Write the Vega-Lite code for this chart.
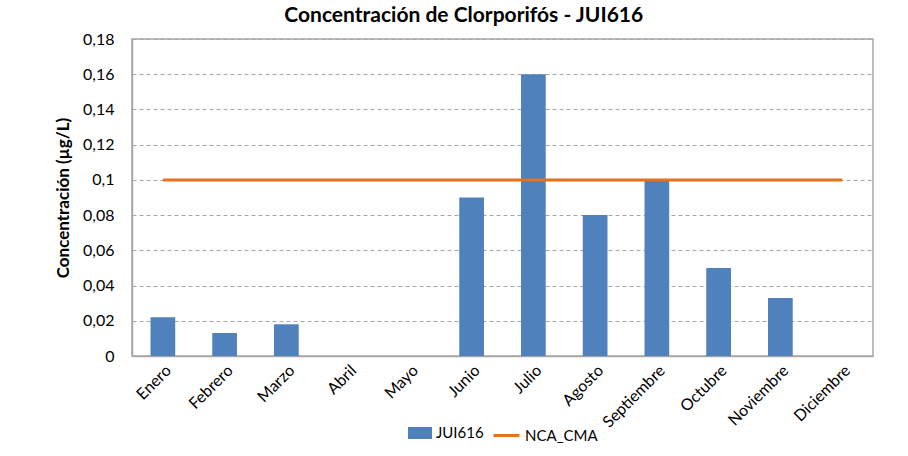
{
  "$schema": "https://vega.github.io/schema/vega-lite/v6.json",
  "width": 908,
  "height": 456,
  "autosize": {"type": "fit", "contains": "padding"},
  "padding": {"left": 54, "top": 5, "right": 35, "bottom": 12},
  "background": "white",
  "title": {
    "text": "Concentración de Clorporifós - JUI616",
    "font": "Lato",
    "fontSize": 21,
    "fontWeight": "bold",
    "color": "#000000",
    "anchor": "middle",
    "frame": "bounds",
    "offset": 5
  },
  "data": {
    "values": [
      {"mes": "Enero", "valor": 0.022, "nca": 0.1},
      {"mes": "Febrero", "valor": 0.013, "nca": 0.1},
      {"mes": "Marzo", "valor": 0.018, "nca": 0.1},
      {"mes": "Abril", "valor": null, "nca": 0.1},
      {"mes": "Mayo", "valor": null, "nca": 0.1},
      {"mes": "Junio", "valor": 0.09, "nca": 0.1},
      {"mes": "Julio", "valor": 0.16, "nca": 0.1},
      {"mes": "Agosto", "valor": 0.08, "nca": 0.1},
      {"mes": "Septiembre", "valor": 0.1, "nca": 0.1},
      {"mes": "Octubre", "valor": 0.05, "nca": 0.1},
      {"mes": "Noviembre", "valor": 0.033, "nca": 0.1},
      {"mes": "Diciembre", "valor": null, "nca": 0.1}
    ]
  },
  "encoding": {
    "x": {
      "field": "mes",
      "type": "nominal",
      "sort": ["Enero", "Febrero", "Marzo", "Abril", "Mayo", "Junio", "Julio", "Agosto", "Septiembre", "Octubre", "Noviembre", "Diciembre"],
      "scale": {"paddingInner": 0.6, "paddingOuter": 0.3},
      "axis": {
        "title": null,
        "labelAngle": -45,
        "labelFont": "Lato",
        "labelFontSize": 16,
        "labelColor": "#000000",
        "labelPadding": 6,
        "ticks": false,
        "domainColor": "#a6a6a6",
        "domainWidth": 1.5,
        "grid": false
      }
    }
  },
  "layer": [
    {
      "mark": {"type": "bar", "color": "#4F81BD"},
      "encoding": {
        "y": {
          "field": "valor",
          "type": "quantitative",
          "scale": {"domain": [0, 0.18], "nice": false},
          "axis": {
            "title": "Concentración (µg/L)",
            "titleFont": "Lato",
            "titleFontSize": 17,
            "titleFontWeight": "bold",
            "titleColor": "#000000",
            "titlePadding": 10,
            "values": [0, 0.02, 0.04, 0.06, 0.08, 0.1, 0.12, 0.14, 0.16, 0.18],
            "labelOverlap": false,
            "labelExpr": "replace(format(datum.value, '~g'), '.', ',')",
            "labelFont": "Lato",
            "labelFontSize": 16,
            "labelColor": "#000000",
            "labelPadding": 18,
            "ticks": false,
            "domainColor": "#a6a6a6",
            "domainWidth": 1.5,
            "grid": true,
            "gridColor": "#a6a6a6",
            "gridDash": [4, 3],
            "gridWidth": 1
          }
        },
        "color": {
          "datum": "JUI616",
          "scale": {"domain": ["JUI616"], "range": ["#4F81BD"]},
          "legend": {
            "title": null,
            "orient": "bottom",
            "offset": -10,
            "symbolType": "M-1,-0.5H1V0.5H-1Z",
            "symbolSize": 576,
            "symbolStrokeWidth": 0,
            "labelFont": "Lato",
            "labelFontSize": 15,
            "labelColor": "#000000"
          }
        }
      }
    },
    {
      "mark": {"type": "line", "strokeWidth": 3},
      "encoding": {
        "y": {
          "field": "nca",
          "type": "quantitative",
          "axis": {
            "title": "Concentración (µg/L)",
            "titleFont": "Lato",
            "titleFontSize": 17,
            "titleFontWeight": "bold",
            "titleColor": "#000000",
            "titlePadding": 10,
            "values": [0, 0.02, 0.04, 0.06, 0.08, 0.1, 0.12, 0.14, 0.16, 0.18],
            "labelOverlap": false,
            "labelExpr": "replace(format(datum.value, '~g'), '.', ',')",
            "labelFont": "Lato",
            "labelFontSize": 16,
            "labelColor": "#000000",
            "labelPadding": 18,
            "ticks": false,
            "domainColor": "#a6a6a6",
            "domainWidth": 1.5,
            "grid": true,
            "gridColor": "#a6a6a6",
            "gridDash": [4, 3],
            "gridWidth": 1
          }
        },
        "stroke": {
          "datum": "NCA_CMA",
          "scale": {"domain": ["NCA_CMA"], "range": ["#E8711A"]},
          "legend": {
            "title": null,
            "orient": "bottom",
            "offset": -10,
            "symbolType": "stroke",
            "symbolSize": 676,
            "symbolStrokeWidth": 3,
            "labelFont": "Lato",
            "labelFontSize": 15,
            "labelColor": "#000000"
          }
        }
      }
    }
  ],
  "config": {
    "view": {"stroke": "#a6a6a6", "strokeWidth": 1.5},
    "legend": {"layout": {"bottom": {"anchor": "middle", "direction": "horizontal"}}}
  }
}
